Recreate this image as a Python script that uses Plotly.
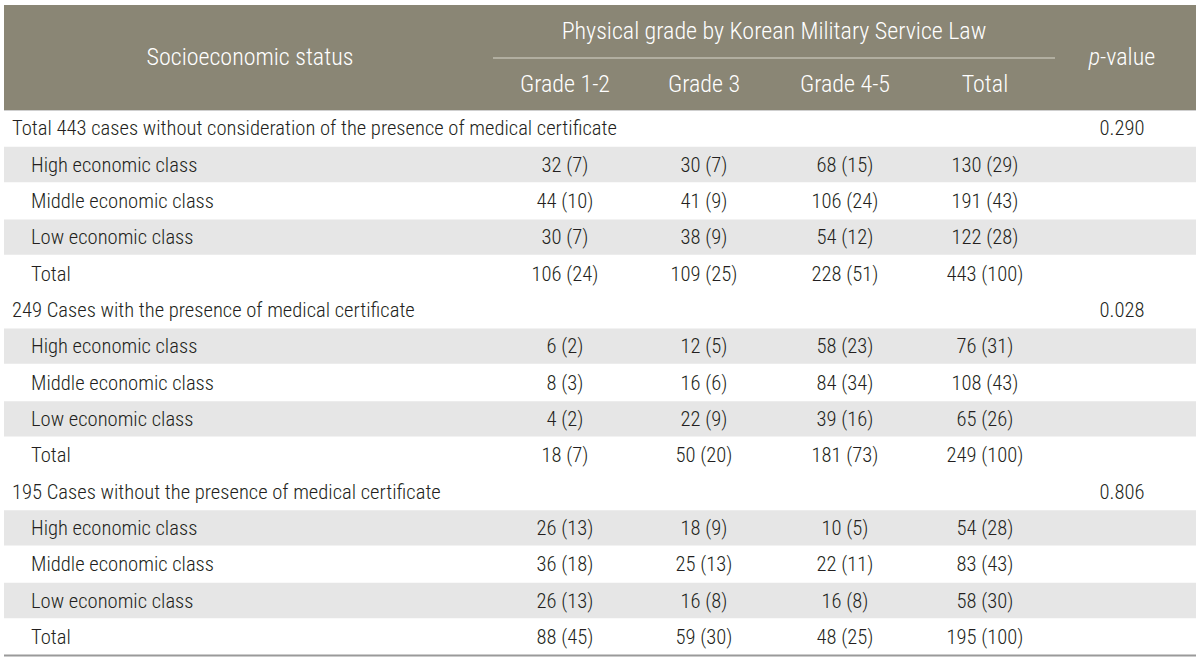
import plotly.graph_objects as go

# ---------------- data ----------------
sections = [
    "Total 443 cases without consideration of the presence of medical certificate",
    "249 Cases with the presence of medical certificate",
    "195 Cases without the presence of medical certificate",
]
p_values = ["0.290", "0.028", "0.806"]
classes = ["High economic class", "Middle economic class", "Low economic class", "Total"]
grade_cols = ["Grade 1-2", "Grade 3", "Grade 4-5", "Total"]
group_header = "Physical grade by Korean Military Service Law"
first_header = "Socioeconomic status"
p_header = "<i>p</i>-value"

grade12_n = [[32, 44, 30, 106], [6, 8, 4, 18], [26, 36, 26, 88]]
grade12_pct = [[7, 10, 7, 24], [2, 3, 2, 7], [13, 18, 13, 45]]
grade3_n = [[30, 41, 38, 109], [12, 16, 22, 50], [18, 25, 16, 59]]
grade3_pct = [[7, 9, 9, 25], [5, 6, 9, 20], [9, 13, 8, 30]]
grade45_n = [[68, 106, 54, 228], [58, 84, 39, 181], [10, 22, 16, 48]]
grade45_pct = [[15, 24, 12, 51], [23, 34, 16, 73], [5, 11, 8, 25]]
total_n = [[130, 191, 122, 443], [76, 108, 65, 249], [54, 83, 58, 195]]
total_pct = [[29, 43, 28, 100], [31, 43, 26, 100], [28, 43, 30, 100]]

# ---------------- layout constants ----------------
W, H = 1200, 660
LEFT, RIGHT = 4, 1196
HEAD_TOP, HEAD_BOT = 5, 110
ROW_H = (655 - HEAD_BOT) / 15
TXT_DY = 2.0
col_x = [565, 704, 845, 985]
p_x = 1122
sec_x = 12
lab_x = 31
FONT = "Liberation Sans Narrow, Roboto Condensed, DejaVu Sans Condensed, Arial Narrow, Roboto, sans-serif"
TXT = "#231f20"
HEAD_BG = "#8a8675"
GRAY = "#e6e6e6"

fig = go.Figure()
shapes = []

# header background
shapes.append(dict(type="rect", xref="x", yref="y", x0=LEFT, x1=RIGHT, y0=HEAD_TOP, y1=HEAD_BOT,
                   fillcolor=HEAD_BG, line=dict(width=0), layer="below"))
shapes.append(dict(type="line", xref="x", yref="y", x0=493, x1=1055, y0=58, y1=58,
                   line=dict(color="#d8d6cc", width=1)))
shapes.append(dict(type="line", xref="x", yref="y", x0=LEFT, x1=RIGHT, y0=HEAD_BOT + 0.5, y1=HEAD_BOT + 0.5,
                   line=dict(color="#cfcfcf", width=1)))

sec_y = []
lab_y, lab_text = [], []
val_x, val_y, val_text = [], [], []
p_y = []
r = 0
for s, sec in enumerate(sections):
    yc = HEAD_BOT + ROW_H * (r + 0.5) + TXT_DY
    sec_y.append(yc)
    p_y.append(yc)
    r += 1
    for i, cls in enumerate(classes):
        y0 = HEAD_BOT + ROW_H * r
        yc = y0 + ROW_H / 2 + TXT_DY
        if i % 2 == 0:
            shapes.append(dict(type="rect", xref="x", yref="y", x0=LEFT, x1=RIGHT, y0=y0 + 0.5, y1=y0 + ROW_H - 0.5,
                               fillcolor=GRAY, line=dict(width=0), layer="below"))
        lab_y.append(yc)
        lab_text.append(cls)
        cells = [
            f"{grade12_n[s][i]} ({grade12_pct[s][i]})",
            f"{grade3_n[s][i]} ({grade3_pct[s][i]})",
            f"{grade45_n[s][i]} ({grade45_pct[s][i]})",
            f"{total_n[s][i]} ({total_pct[s][i]})",
        ]
        for cx, t in zip(col_x, cells):
            val_x.append(cx)
            val_y.append(yc)
            val_text.append(t)
        r += 1

shapes.append(dict(type="line", xref="x", yref="y", x0=LEFT, x1=RIGHT, y0=655.5, y1=655.5,
                   line=dict(color="#9a9a9a", width=2)))

fs = 20.6
fw = 300
fig.add_trace(go.Scatter(x=[sec_x] * len(sec_y), y=sec_y, text=sections, mode="text",
                         textposition="middle right", textfont=dict(family=FONT, size=fs, color=TXT, weight=fw),
                         hoverinfo="skip"))
fig.add_trace(go.Scatter(x=[lab_x] * len(lab_y), y=lab_y, text=lab_text, mode="text",
                         textposition="middle right", textfont=dict(family=FONT, size=fs, color=TXT, weight=fw),
                         hoverinfo="skip"))
fig.add_trace(go.Scatter(x=val_x, y=val_y, text=val_text, mode="text",
                         textposition="middle center", textfont=dict(family=FONT, size=fs, color=TXT, weight=fw),
                         hoverinfo="skip"))
fig.add_trace(go.Scatter(x=[p_x] * len(p_y), y=p_y, text=p_values, mode="text",
                         textposition="middle center", textfont=dict(family=FONT, size=fs, color=TXT, weight=fw),
                         hoverinfo="skip"))

# header texts
hfs = 24
fig.add_trace(go.Scatter(x=[250, (493 + 1055) / 2, p_x] + col_x,
                         y=[59, 33, 59] + [86] * 4,
                         text=[first_header, group_header, p_header] + grade_cols,
                         mode="text", textposition="middle center",
                         textfont=dict(family=FONT, size=hfs, color="white", weight=fw), hoverinfo="skip"))

fig.update_layout(
    width=W, height=H, margin=dict(l=0, r=0, t=0, b=0),
    paper_bgcolor="white", plot_bgcolor="white", showlegend=False,
    shapes=shapes,
    xaxis=dict(range=[0, W], visible=False, fixedrange=True),
    yaxis=dict(range=[H, 0], visible=False, fixedrange=True),
)
fig.write_html("out.html", config={"displayModeBar": False},
               post_script="document.body.style.margin='0';document.body.style.overflow='hidden';")
